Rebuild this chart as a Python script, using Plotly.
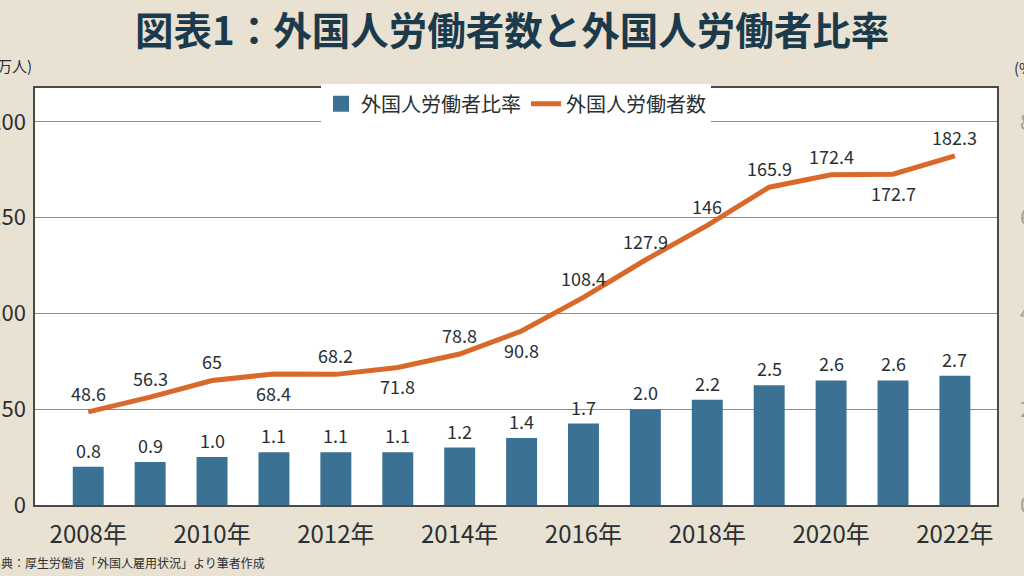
import plotly.graph_objects as go

years = [2008, 2009, 2010, 2011, 2012, 2013, 2014, 2015, 2016, 2017, 2018, 2019, 2020, 2021, 2022]
workers = [48.6, 56.3, 65, 68.4, 68.2, 71.8, 78.8, 90.8, 108.4, 127.9, 146, 165.9, 172.4, 172.7, 182.3]
worker_labels = ["48.6", "56.3", "65", "68.4", "68.2", "71.8", "78.8", "90.8", "108.4", "127.9", "146", "165.9", "172.4", "172.7", "182.3"]
worker_label_side = [1, 1, 1, -1, 1, -1, 1, -1, 1, 1, 1, 1, 1, -1, 1]
ratio = [0.8, 0.9, 1.0, 1.1, 1.1, 1.1, 1.2, 1.4, 1.7, 2.0, 2.2, 2.5, 2.6, 2.6, 2.7]
tick_years = [2008, 2010, 2012, 2014, 2016, 2018, 2020, 2022]
tick_text = [f"{y}年" for y in tick_years]
left_ticks = [0, 50, 100, 150, 200]
right_ticks = [0, 2, 4, 6, 8]

FONT = "Noto Sans CJK JP"
BG = "#e9e2d2"
BAR = "#3b7293"
LINE = "#d9692b"
TXT = "#2a2f33"

fig = go.Figure()
fig.add_trace(go.Bar(
    x=years, y=ratio, name="外国人労働者比率", yaxis="y2", showlegend=False,
    marker=dict(color=BAR, line=dict(width=0)), width=0.5,
))
# legend-only entry with a larger swatch for the bar series
fig.add_trace(go.Scatter(
    x=[None], y=[None], name="外国人労働者比率", mode="markers",
    marker=dict(color=BAR, symbol="square", size=20),
))
fig.add_trace(go.Scatter(
    x=years, y=workers, name="外国人労働者数", mode="lines",
    line=dict(color=LINE, width=5),
))

annotations = []
for x, v, lab, s in zip(years, workers, worker_labels, worker_label_side):
    annotations.append(dict(x=x, y=v, xref="x", yref="y", text=lab, showarrow=False,
                            yshift=19 * s, yanchor="middle",
                            font=dict(family=FONT, size=18, color=TXT)))
for x, v in zip(years, ratio):
    annotations.append(dict(x=x, y=v, xref="x", yref="y2", text=f"{v:.1f}", showarrow=False,
                            yshift=17, yanchor="middle",
                            font=dict(family=FONT, size=18, color=TXT)))
annotations.append(dict(x=0.4958, y=1.144, xref="paper", yref="paper",
                        text="<b>図表1：外国人労働者数と外国人労働者比率</b>",
                        xanchor="center", yanchor="middle",
                        showarrow=False, font=dict(family=FONT, size=38.5, color="#1b3a4b")))
annotations.append(dict(text="(万人)", xref="paper", yref="paper", x=-0.047, y=1.055,
                        xanchor="left", yanchor="middle", showarrow=False,
                        font=dict(family=FONT, size=15, color=TXT)))
annotations.append(dict(text="(%)", xref="paper", yref="paper", x=1.0155, y=1.05,
                        xanchor="left", yanchor="middle", showarrow=False,
                        font=dict(family=FONT, size=15, color=TXT)))
annotations.append(dict(text="出典：厚生労働省「外国人雇用状況」より筆者作成", xref="paper", yref="paper",
                        x=-0.05, y=-0.138, xanchor="left", yanchor="middle", showarrow=False,
                        font=dict(family=FONT, size=12, color=TXT)))

fig.update_layout(
    annotations=annotations,
    width=1024, height=576,
    margin=dict(l=35, r=27, t=88, b=71, autoexpand=False),
    paper_bgcolor=BG, plot_bgcolor="white",
    font=dict(family=FONT, color=TXT),
    showlegend=True,
    legend=dict(orientation="h", x=0.5, xanchor="center", y=0.962, yanchor="middle",
                bgcolor="white", font=dict(family=FONT, size=20, color=TXT),
                itemwidth=30, traceorder="normal"),
    xaxis=dict(range=[2008 - 0.86, 2008 + 14.68], tickvals=tick_years, ticktext=tick_text,
               showgrid=False, zeroline=False, showline=True, mirror=True, linecolor="#4a4a4a",
               linewidth=1.5, ticks="", ticklabelstandoff=7,
               tickfont=dict(family=FONT, size=24, color=TXT)),
    yaxis=dict(range=[0, 217.7], tickvals=left_ticks, showgrid=True, gridcolor="#8c8c8c",
               gridwidth=1, zeroline=False, showline=True, mirror=True, linecolor="#4a4a4a",
               linewidth=1.5, ticks="", ticklabelstandoff=3,
               tickfont=dict(family=FONT, size=22, color=TXT)),
    yaxis2=dict(range=[0, 217.7 / 25], tickvals=right_ticks, overlaying="y", side="right",
                showgrid=False, zeroline=False, showline=False, ticks="",
                ticklabelstandoff=22, tickfont=dict(family=FONT, size=22, color="#a0a0a0")),
)

fig.write_html("out.html", config={"displayModeBar": False},
               post_script="document.body.style.margin='0';document.body.style.overflow='hidden';")
